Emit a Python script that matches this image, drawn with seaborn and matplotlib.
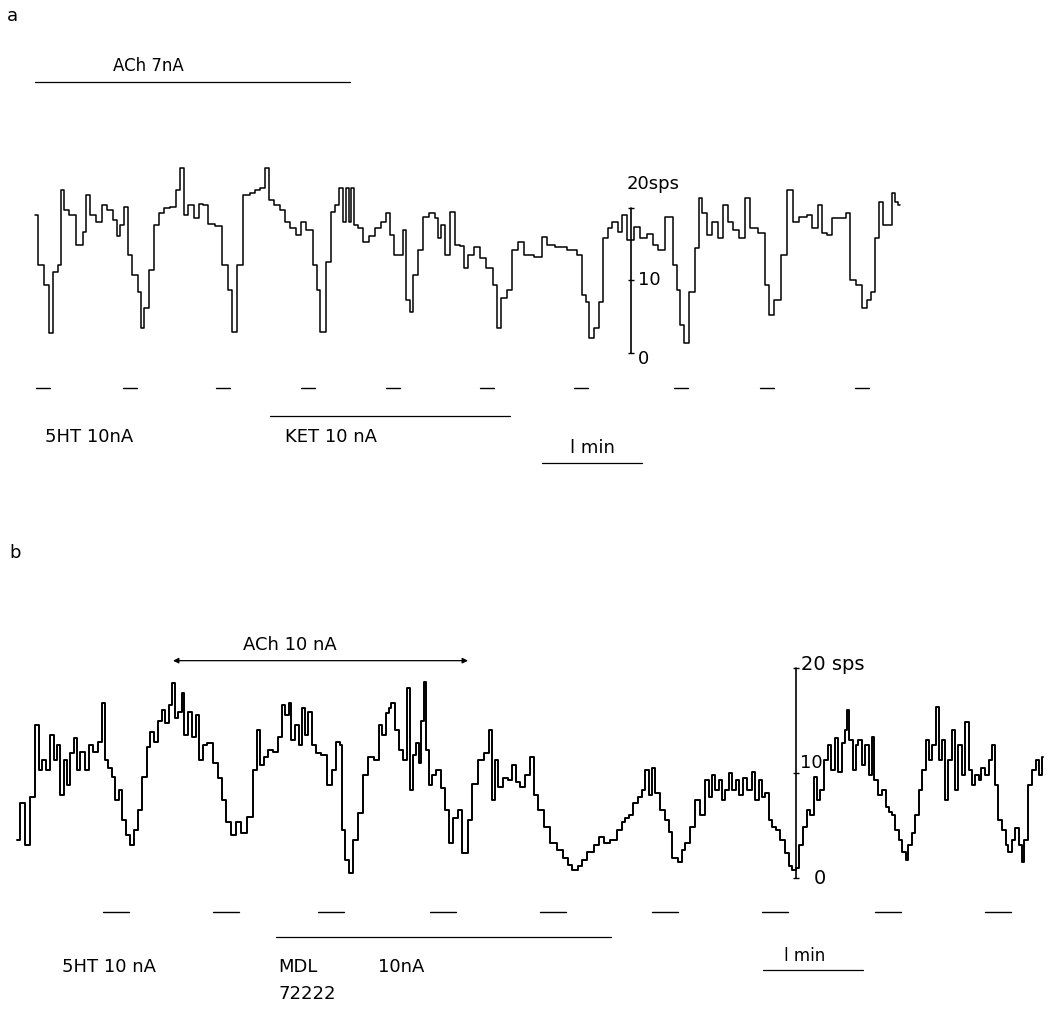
import matplotlib
matplotlib.use("Agg")
import matplotlib.pyplot as plt
import seaborn as sns
import pandas as pd

sns.set_style("white")
plt.rcParams['font.family'] = ['DejaVu Sans']
plt.rcParams['text.color'] = 'black'

# ---------------- Panel a data (time in min, rate in spikes/s) ----------------
a_time = [0.05, 0.10, 0.17, 0.20, 0.26, 0.30, 0.32, 0.35, 0.42, 0.50, 0.55, 0.57,
          0.62, 0.70, 0.73, 0.80, 0.85, 0.88, 0.92, 0.95, 1.00, 1.05, 1.10, 1.11,
          1.16, 1.21, 1.27, 1.30, 1.38, 1.43, 1.48, 1.52, 1.55, 1.60, 1.67, 1.70,
          1.75, 1.80, 1.90, 1.95, 2.00, 2.04, 2.10, 2.17, 2.22, 2.28, 2.33, 2.37,
          2.41, 2.47, 2.53, 2.57, 2.63, 2.68, 2.73, 2.80, 2.85, 2.88, 2.92, 2.99,
          3.03, 3.07, 3.11, 3.14, 3.17, 3.20, 3.22, 3.25, 3.30, 3.35, 3.42, 3.47,
          3.54, 3.58, 3.62, 3.65, 3.70, 3.75, 3.78, 3.81, 3.85, 3.90, 3.95, 4.02,
          4.07, 4.08, 4.13, 4.17, 4.23, 4.27, 4.33, 4.35, 4.40, 4.47, 4.53, 4.60,
          4.65, 4.68, 4.74, 4.80, 4.85, 4.90, 4.97, 5.10, 5.13, 5.20, 5.30, 5.43,
          5.50, 5.53, 5.58, 5.60, 5.67, 5.70, 5.75, 5.80, 5.85, 5.90, 5.93, 6.00,
          6.07, 6.13, 6.20, 6.25, 6.30, 6.40, 6.45, 6.48, 6.52, 6.55, 6.62, 6.67,
          6.70, 6.73, 6.80, 6.85, 6.90, 6.95, 7.00, 7.05, 7.12, 7.17, 7.23, 7.33,
          7.37, 7.40, 7.48, 7.53, 7.60, 7.65, 7.73, 7.80, 7.85, 7.90, 7.93, 8.00,
          8.03, 8.13, 8.18, 8.22, 8.30, 8.34, 8.40, 8.43, 8.47, 8.50, 8.55, 8.60,
          8.63, 8.67, 8.70]
a_rate = [19.0, 12.1, 9.4, 2.8, 11.2, 12.1, 22.5, 19.7, 19.0, 14.9, 16.7, 21.8,
          19.0, 18.1, 20.4, 19.7, 18.3, 16.1, 17.7, 20.1, 13.5, 10.8, 8.4, 3.4,
          6.2, 11.4, 17.7, 19.3, 20.0, 20.1, 22.5, 25.5, 19.0, 20.4, 18.6, 20.6,
          20.4, 17.8, 17.5, 12.1, 8.7, 2.9, 12.1, 21.8, 22.1, 22.5, 22.8, 25.5,
          21.1, 20.4, 19.7, 18.1, 17.2, 16.3, 18.1, 17.0, 12.1, 8.7, 2.9, 12.6,
          19.4, 20.4, 22.8, 18.1, 22.8, 18.1, 22.8, 17.7, 17.2, 15.3, 16.1, 17.2,
          18.1, 19.3, 16.3, 13.5, 13.5, 17.0, 7.3, 5.7, 10.8, 14.2, 18.8, 19.3,
          18.6, 15.9, 17.7, 13.5, 19.4, 14.9, 14.8, 11.7, 13.5, 14.6, 13.1, 11.7,
          9.4, 3.4, 7.6, 8.7, 14.2, 15.3, 13.5, 13.2, 16.0, 14.9, 14.6, 14.2,
          13.5, 8.0, 7.0, 2.1, 3.4, 7.0, 15.9, 17.2, 18.1, 16.7, 19.0, 15.6,
          17.4, 15.9, 16.4, 14.9, 14.2, 18.8, 12.1, 8.7, 3.9, 1.4, 8.4, 14.5,
          21.4, 19.3, 16.3, 18.1, 15.9, 20.4, 18.1, 17.0, 15.9, 21.4, 17.2, 16.6,
          9.4, 5.2, 7.3, 13.5, 22.5, 18.1, 18.8, 19.0, 17.2, 20.4, 16.6, 16.3,
          18.6, 18.6, 19.3, 10.1, 9.4, 6.2, 7.3, 8.4, 15.9, 20.8, 17.7, 17.7,
          22.1, 20.8, 20.4]

# ---------------- Panel b data (time in min, rate in spikes/s) ----------------
b_time = [0.02, 0.08, 0.12, 0.18, 0.22, 0.25, 0.29, 0.33, 0.37, 0.40, 0.43, 0.47,
          0.50, 0.53, 0.57, 0.60, 0.63, 0.67, 0.72, 0.75, 0.80, 0.85, 0.88, 0.91,
          0.95, 0.98, 1.02, 1.05, 1.09, 1.13, 1.17, 1.21, 1.25, 1.30, 1.33, 1.37,
          1.41, 1.45, 1.48, 1.52, 1.55, 1.58, 1.61, 1.65, 1.68, 1.71, 1.75, 1.79,
          1.82, 1.85, 1.90, 1.95, 2.00, 2.05, 2.09, 2.13, 2.18, 2.23, 2.28, 2.35,
          2.40, 2.43, 2.46, 2.51, 2.55, 2.60, 2.65, 2.68, 2.72, 2.75, 2.78, 2.82,
          2.85, 2.88, 2.91, 2.95, 2.99, 3.03, 3.09, 3.15, 3.19, 3.23, 3.26, 3.28,
          3.32, 3.36, 3.40, 3.45, 3.50, 3.55, 3.62, 3.65, 3.69, 3.72, 3.75, 3.78,
          3.82, 3.85, 3.90, 3.93, 3.96, 3.99, 4.02, 4.05, 4.08, 4.10, 4.12, 4.15,
          4.19, 4.23, 4.28, 4.32, 4.35, 4.40, 4.45, 4.50, 4.55, 4.60, 4.65, 4.72,
          4.76, 4.78, 4.81, 4.85, 4.90, 4.95, 4.99, 5.02, 5.08, 5.12, 5.17, 5.20,
          5.25, 5.32, 5.38, 5.45, 5.50, 5.55, 5.60, 5.65, 5.68, 5.75, 5.82, 5.85,
          5.92, 5.98, 6.05, 6.08, 6.12, 6.15, 6.20, 6.25, 6.28, 6.32, 6.35, 6.38,
          6.42, 6.48, 6.52, 6.55, 6.60, 6.65, 6.68, 6.72, 6.78, 6.82, 6.88, 6.92,
          6.95, 6.98, 7.02, 7.05, 7.08, 7.12, 7.15, 7.19, 7.22, 7.26, 7.30, 7.35,
          7.38, 7.42, 7.45, 7.48, 7.52, 7.55, 7.59, 7.63, 7.67, 7.72, 7.75, 7.79,
          7.82, 7.85, 7.90, 7.93, 7.97, 8.00, 8.03, 8.07, 8.11, 8.15, 8.18, 8.21,
          8.25, 8.28, 8.31, 8.33, 8.36, 8.39, 8.42, 8.45, 8.49, 8.52, 8.55, 8.58,
          8.61, 8.65, 8.69, 8.72, 8.75, 8.78, 8.82, 8.85, 8.89, 8.92, 8.95, 8.98,
          9.02, 9.05, 9.09, 9.12, 9.15, 9.19, 9.22, 9.25, 9.28, 9.31, 9.35, 9.38,
          9.41, 9.45, 9.48, 9.52, 9.55, 9.58, 9.62, 9.65, 9.68, 9.72, 9.75, 9.78,
          9.81, 9.85, 9.89, 9.92, 9.95, 9.99, 10.02, 10.05, 10.08, 10.11, 10.15, 10.19,
          10.22, 10.25, 10.28]
b_rate = [3.6, 7.1, 3.1, 7.7, 14.6, 10.3, 11.2, 10.3, 13.6, 11.2, 12.7, 7.9,
          11.2, 8.9, 11.9, 13.3, 10.3, 12.0, 10.3, 12.7, 12.0, 13.0, 16.7, 11.2,
          10.5, 9.6, 7.4, 8.4, 5.5, 4.1, 3.1, 4.6, 6.5, 9.6, 12.5, 13.9,
          13.0, 15.0, 16.0, 14.8, 16.5, 18.6, 15.2, 15.8, 17.6, 13.6, 15.8, 13.4,
          15.5, 11.2, 12.7, 12.9, 11.0, 9.5, 7.4, 5.3, 4.1, 5.3, 4.3, 5.8,
          10.3, 14.1, 10.8, 11.5, 12.2, 12.0, 13.4, 16.5, 15.5, 16.7, 13.1, 14.6,
          12.7, 16.2, 13.6, 15.8, 12.7, 11.9, 11.7, 8.9, 10.3, 13.0, 12.7, 4.6,
          1.7, 0.5, 3.6, 6.2, 9.8, 11.5, 11.2, 14.6, 13.6, 15.7, 16.2, 16.7,
          14.1, 12.2, 11.2, 18.1, 8.4, 11.7, 12.9, 11.0, 15.0, 18.7, 12.2, 8.9,
          9.8, 10.3, 8.6, 6.5, 3.3, 5.7, 6.5, 2.4, 5.5, 9.0, 11.2, 11.9,
          14.1, 7.4, 11.2, 8.7, 9.5, 9.3, 10.8, 9.1, 8.7, 9.8, 11.5, 7.9,
          6.5, 4.9, 3.3, 2.7, 1.9, 1.2, 0.8, 1.1, 1.7, 2.5, 3.1, 3.9,
          3.3, 3.6, 4.6, 5.3, 5.7, 6.0, 7.1, 7.7, 8.4, 10.3, 7.9, 10.5,
          8.1, 6.5, 5.5, 4.4, 1.9, 1.5, 2.7, 3.3, 4.9, 7.4, 6.0, 9.3,
          7.7, 9.8, 8.4, 9.3, 7.4, 8.4, 10.0, 8.4, 9.3, 7.9, 9.5, 8.4,
          10.1, 7.4, 9.3, 7.7, 8.1, 5.5, 4.9, 4.6, 3.6, 2.4, 1.1, 0.8,
          1.0, 3.1, 4.9, 6.5, 6.0, 9.6, 7.4, 8.4, 11.2, 12.7, 10.3, 13.3,
          10.1, 12.9, 14.1, 16.0, 13.1, 10.3, 12.7, 13.1, 10.8, 12.7, 9.8, 13.4,
          9.3, 7.9, 8.4, 6.8, 6.3, 6.0, 4.6, 3.6, 2.5, 1.7, 3.1, 4.3,
          6.0, 8.4, 10.3, 13.1, 11.2, 12.7, 16.3, 11.2, 13.1, 7.4, 11.2, 14.1,
          8.4, 12.7, 9.8, 14.9, 10.3, 8.9, 9.8, 9.3, 10.5, 9.8, 11.2, 12.7,
          8.9, 5.5, 4.6, 3.1, 2.5, 3.6, 4.8, 3.1, 1.5, 3.6, 8.9, 10.3,
          11.2, 9.8, 11.5]

# ---------------- Drug application / markers (min) ----------------
a_5ht_starts = [0.06, 0.93, 1.86, 2.71, 3.56, 4.50, 5.44, 6.44, 7.30, 8.25]
a_5ht_dur = 0.14
a_ach = (0.05, 3.20)
a_ket = (2.40, 4.80)
b_5ht_starts = [0.88, 1.98, 3.03, 4.15, 5.25, 6.37, 7.47, 8.60, 9.70]
b_5ht_dur = 0.26
b_ach = (1.58, 4.53)
b_mdl = (2.61, 5.96)
scale_sps = [0, 10, 20]

fig = plt.figure(figsize=(10.49, 10.16), dpi=100)
ax_a = fig.add_axes([0, 1 - 500 / 1016, 1, 500 / 1016])
ax_b = fig.add_axes([0, 0, 1, 516 / 1016])

# ---------- panel a ----------
df_a = pd.DataFrame({"t": a_time, "r": a_rate})
sns.lineplot(data=df_a, x="t", y="r", ax=ax_a, color="black", lw=1.1,
             drawstyle="steps-mid", estimator=None, sort=False)
ax_a.set_xlim(-0.30, 10.19)
ax_a.set_ylim(-20.28, 48.69)
ax_a.axis("off")

fs = 13
ax_a.text(-0.23, 46.5, "a", fontsize=fs, ha="left", va="center")
ax_a.plot(a_ach, [37.4, 37.4], color="black", lw=0.9)
ax_a.text(1.18, 38.3, "ACh 7nA", fontsize=fs - 1, ha="center", va="bottom")
for s in a_5ht_starts:
    ax_a.plot([s, s + a_5ht_dur], [-4.8, -4.8], color="black", lw=1.0)
ax_a.plot(a_ket, [-8.7, -8.7], color="black", lw=0.9)
ax_a.text(0.15, -11.6, "5HT 10nA", fontsize=fs, ha="left", va="center")
ax_a.text(2.55, -11.6, "KET 10 nA", fontsize=fs, ha="left", va="center")
ax_a.plot([5.12, 6.12], [-15.2, -15.2], color="black", lw=0.9)
ax_a.text(5.62, -14.3, "l min", fontsize=fs, ha="center", va="bottom")
# vertical scale bar
ax_a.plot([6.01] * 3, scale_sps, color="black", lw=1.2, marker="_", ms=5)
ax_a.text(5.97, 22.0, "20sps", fontsize=fs, ha="left", va="bottom")
ax_a.text(6.08, 10, "10", fontsize=fs, ha="left", va="center")
ax_a.text(6.08, -0.8, "0", fontsize=fs, ha="left", va="center")

# ---------- panel b ----------
df_b = pd.DataFrame({"t": b_time, "r": b_rate})
sns.lineplot(data=df_b, x="t", y="r", ax=ax_b, color="black", lw=1.4,
             drawstyle="steps-mid", estimator=None, sort=False)
ax_b.set_xlim(-0.15, 10.34)
ax_b.set_ylim(-13.14, 36.0)
ax_b.axis("off")

ax_b.text(-0.06, 31.0, "b", fontsize=fs, ha="left", va="center")
ax_b.annotate("", xy=(b_ach[1], 20.7), xytext=(b_ach[0], 20.7),
              arrowprops=dict(arrowstyle="<|-|>", color="black", lw=0.9,
                              mutation_scale=8, shrinkA=0, shrinkB=0))
ax_b.text(2.75, 21.3, "ACh 10 nA", fontsize=fs, ha="center", va="bottom")
for s in b_5ht_starts:
    ax_b.plot([s, s + b_5ht_dur], [-3.2, -3.2], color="black", lw=1.0)
ax_b.plot(b_mdl, [-5.6, -5.6], color="black", lw=0.9)
ax_b.text(0.47, -8.5, "5HT 10 nA", fontsize=fs, ha="left", va="center")
ax_b.text(2.63, -8.5, "MDL", fontsize=fs, ha="left", va="center")
ax_b.text(2.63, -11.0, "72222", fontsize=fs, ha="left", va="center")
ax_b.text(3.63, -8.5, "10nA", fontsize=fs, ha="left", va="center")
ax_b.plot([7.48, 8.48], [-8.8, -8.8], color="black", lw=0.9)
ax_b.text(7.90, -8.3, "l min", fontsize=fs - 1, ha="center", va="bottom")
ax_b.plot([7.81] * 3, scale_sps, color="black", lw=1.2, marker="_", ms=5)
ax_b.text(7.86, 20.3, "20 sps", fontsize=fs + 1, ha="left", va="center")
ax_b.text(7.85, 11.0, "10", fontsize=fs, ha="left", va="center")
ax_b.text(7.99, 0.0, "0", fontsize=fs + 1, ha="left", va="center")

fig.savefig("out.png", dpi=100, facecolor="white")
